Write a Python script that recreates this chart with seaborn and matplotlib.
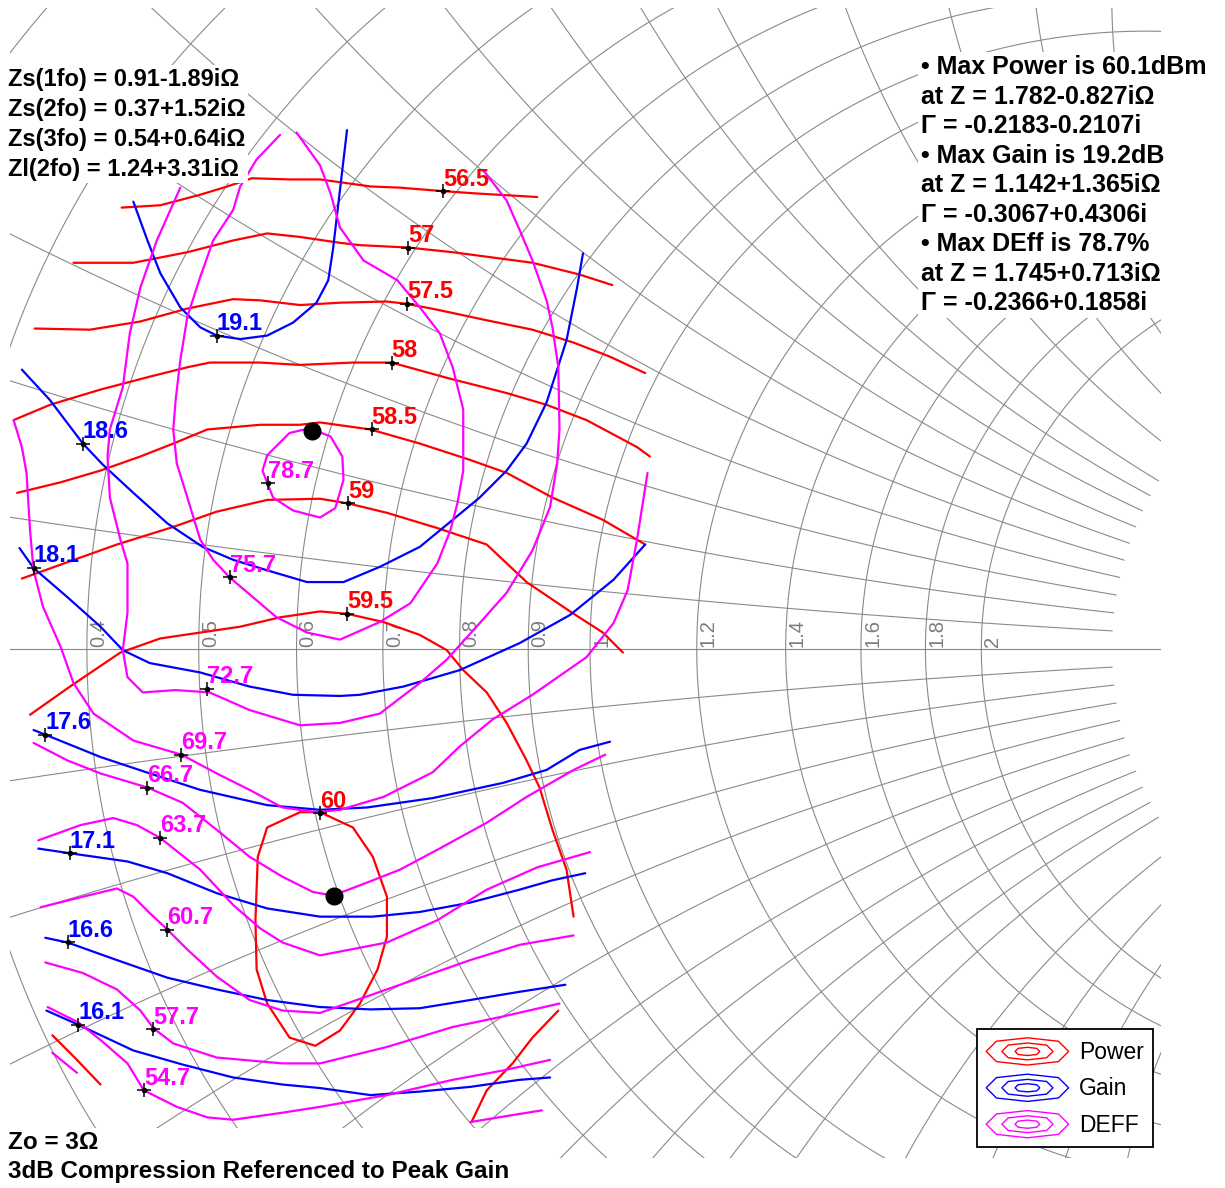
import numpy as np
import pandas as pd
import matplotlib
matplotlib.use("Agg")
import matplotlib.pyplot as plt
import seaborn as sns
from matplotlib.lines import Line2D
from matplotlib.patches import Polygon, Rectangle
from matplotlib.legend_handler import HandlerBase

# load-pull contours (Zo = 3 ohm), points (re, im)
POWER_56_5 = [(-0.399, 0.376), (-0.366, 0.378), (-0.332, 0.387), (-0.309, 0.394), (-0.288, 0.401), (-0.256, 0.400),
              (-0.230, 0.400), (-0.187, 0.394), (-0.162, 0.393), (-0.125, 0.390), (-0.096, 0.388), (-0.045, 0.385)]
POWER_57 = [(-0.440, 0.329), (-0.389, 0.329), (-0.343, 0.338), (-0.304, 0.348), (-0.275, 0.354), (-0.247, 0.351),
            (-0.213, 0.346), (-0.196, 0.344), (-0.155, 0.342), (-0.117, 0.338), (-0.049, 0.329), (-0.009, 0.319),
            (0.019, 0.310)]
POWER_57_5 = [(-0.473, 0.273), (-0.426, 0.272), (-0.383, 0.279), (-0.343, 0.290), (-0.304, 0.298), (-0.281, 0.297),
              (-0.247, 0.293), (-0.213, 0.295), (-0.173, 0.296), (-0.156, 0.294), (-0.130, 0.289), (-0.088, 0.280),
              (-0.049, 0.272), (-0.014, 0.261), (0.017, 0.249), (0.047, 0.235)]
POWER_58 = [(-0.491, 0.195), (-0.460, 0.208), (-0.417, 0.221), (-0.375, 0.232), (-0.343, 0.240), (-0.324, 0.244),
            (-0.281, 0.244), (-0.247, 0.242), (-0.202, 0.244), (-0.169, 0.244), (-0.122, 0.231), (-0.071, 0.218),
            (-0.037, 0.208), (-0.003, 0.195), (0.040, 0.172), (0.051, 0.164)]
POWER_58_5 = [(-0.488, 0.133), (-0.451, 0.142), (-0.417, 0.152), (-0.383, 0.164), (-0.355, 0.175), (-0.326, 0.187),
              (-0.281, 0.191), (-0.247, 0.191), (-0.230, 0.193), (-0.187, 0.187), (-0.145, 0.175), (-0.102, 0.161),
              (-0.071, 0.150), (-0.032, 0.129), (0.011, 0.110), (0.047, 0.089)]
POWER_59 = [(-0.484, 0.060), (-0.445, 0.074), (-0.403, 0.089), (-0.355, 0.104), (-0.318, 0.117), (-0.275, 0.127),
            (-0.230, 0.128), (-0.206, 0.124), (-0.173, 0.116), (-0.130, 0.103), (-0.088, 0.089), (-0.054, 0.057),
            (-0.017, 0.032), (0.011, 0.014), (0.028, -0.003)]
POWER_59_5 = [(-0.477, -0.056), (-0.443, -0.032), (-0.400, -0.003), (-0.366, 0.009), (-0.332, 0.014), (-0.298, 0.019),
              (-0.264, 0.027), (-0.230, 0.032), (-0.207, 0.030), (-0.176, 0.023), (-0.145, 0.012), (-0.122, -0.001),
              (-0.108, -0.018), (-0.088, -0.037), (-0.071, -0.063), (-0.054, -0.095), (-0.043, -0.118),
              (-0.032, -0.154), (-0.020, -0.188), (-0.014, -0.228)]
POWER_60 = [(-0.230, -0.139), (-0.202, -0.152), (-0.185, -0.177), (-0.173, -0.211), (-0.173, -0.245), (-0.181, -0.273),
            (-0.196, -0.302), (-0.213, -0.325), (-0.234, -0.338), (-0.256, -0.331), (-0.275, -0.302), (-0.284, -0.273),
            (-0.285, -0.231), (-0.283, -0.177), (-0.275, -0.152), (-0.247, -0.139), (-0.230, -0.139)]
POWER_EDGE_A = [(-0.458, -0.329), (-0.439, -0.348), (-0.417, -0.371)]
POWER_EDGE_B = [(-0.027, -0.308), (-0.049, -0.331), (-0.066, -0.353), (-0.088, -0.376), (-0.101, -0.403)]

GAIN_19_1 = [(-0.389, 0.381), (-0.377, 0.348), (-0.366, 0.320), (-0.349, 0.291), (-0.332, 0.274), (-0.318, 0.267),
             (-0.298, 0.264), (-0.275, 0.267), (-0.253, 0.278), (-0.233, 0.295), (-0.223, 0.314), (-0.219, 0.340),
             (-0.215, 0.374), (-0.211, 0.408), (-0.207, 0.442)]
GAIN_18_6 = [(-0.484, 0.238), (-0.460, 0.212), (-0.432, 0.175), (-0.415, 0.157), (-0.389, 0.133), (-0.360, 0.107),
             (-0.330, 0.087), (-0.304, 0.076), (-0.275, 0.067), (-0.241, 0.057), (-0.210, 0.057), (-0.179, 0.070),
             (-0.145, 0.087), (-0.117, 0.110), (-0.094, 0.129), (-0.071, 0.152), (-0.054, 0.175), (-0.037, 0.210),
             (-0.020, 0.263), (-0.011, 0.308), (-0.006, 0.337)]
GAIN_18_1 = [(-0.486, 0.086), (-0.474, 0.069), (-0.445, 0.044), (-0.417, 0.019), (-0.398, -0.001), (-0.375, -0.012),
             (-0.332, -0.020), (-0.290, -0.032), (-0.253, -0.039), (-0.213, -0.040), (-0.196, -0.039),
             (-0.159, -0.032), (-0.111, -0.018), (-0.060, 0.005), (-0.017, 0.029), (0.020, 0.059), (0.047, 0.089)]
GAIN_17_6 = [(-0.474, -0.069), (-0.464, -0.073), (-0.417, -0.092), (-0.375, -0.106), (-0.332, -0.120),
             (-0.275, -0.133), (-0.230, -0.137), (-0.190, -0.135), (-0.134, -0.127), (-0.074, -0.114),
             (-0.037, -0.103), (-0.009, -0.086), (0.017, -0.079)]
GAIN_17_1 = [(-0.470, -0.170), (-0.443, -0.174), (-0.394, -0.181), (-0.360, -0.191), (-0.318, -0.208),
             (-0.275, -0.221), (-0.230, -0.228), (-0.185, -0.228), (-0.145, -0.224), (-0.102, -0.216),
             (-0.060, -0.205), (-0.032, -0.197), (-0.004, -0.191)]
GAIN_16_6 = [(-0.464, -0.246), (-0.445, -0.250), (-0.403, -0.265), (-0.360, -0.280), (-0.318, -0.290),
             (-0.275, -0.299), (-0.230, -0.305), (-0.187, -0.307), (-0.145, -0.306), (-0.102, -0.299),
             (-0.060, -0.292), (-0.021, -0.286)]
GAIN_16_1 = [(-0.463, -0.308), (-0.436, -0.320), (-0.389, -0.342), (-0.347, -0.354), (-0.304, -0.365),
             (-0.262, -0.371), (-0.230, -0.374), (-0.187, -0.380), (-0.145, -0.377), (-0.102, -0.373),
             (-0.060, -0.367), (-0.034, -0.365)]

DEFF_78_7 = [(-0.239, 0.188), (-0.221, 0.181), (-0.211, 0.164), (-0.210, 0.144), (-0.217, 0.120), (-0.230, 0.112),
             (-0.253, 0.118), (-0.270, 0.129), (-0.279, 0.152), (-0.275, 0.165), (-0.256, 0.184), (-0.239, 0.188)]
DEFF_75_7 = [(-0.250, 0.440), (-0.230, 0.412), (-0.221, 0.388), (-0.213, 0.359), (-0.193, 0.331), (-0.164, 0.314),
             (-0.145, 0.291), (-0.128, 0.269), (-0.117, 0.240), (-0.108, 0.204), (-0.108, 0.152), (-0.113, 0.124),
             (-0.119, 0.101), (-0.130, 0.073), (-0.153, 0.039), (-0.179, 0.023), (-0.213, 0.008), (-0.241, 0.014),
             (-0.267, 0.027), (-0.287, 0.044), (-0.307, 0.061), (-0.321, 0.076), (-0.332, 0.093), (-0.343, 0.129),
             (-0.352, 0.158), (-0.355, 0.187), (-0.353, 0.212), (-0.349, 0.246), (-0.343, 0.283), (-0.332, 0.317),
             (-0.321, 0.348), (-0.304, 0.374), (-0.298, 0.394), (-0.284, 0.417), (-0.264, 0.438)]
DEFF_72_7 = [(-0.091, 0.408), (-0.071, 0.382), (-0.060, 0.357), (-0.049, 0.331), (-0.037, 0.297), (-0.032, 0.274),
             (-0.027, 0.240), (-0.026, 0.187), (-0.028, 0.158), (-0.034, 0.121), (-0.049, 0.084), (-0.071, 0.048),
             (-0.094, 0.022), (-0.122, -0.009), (-0.145, -0.029), (-0.179, -0.055), (-0.213, -0.063),
             (-0.247, -0.065), (-0.290, -0.052), (-0.324, -0.037), (-0.353, -0.035), (-0.381, -0.037),
             (-0.394, -0.024), (-0.398, -0.001), (-0.394, 0.031), (-0.394, 0.073), (-0.400, 0.093), (-0.409, 0.129),
             (-0.411, 0.164), (-0.409, 0.187), (-0.398, 0.223), (-0.392, 0.269), (-0.383, 0.308), (-0.369, 0.348),
             (-0.349, 0.393)]
DEFF_69_7 = [(-0.491, 0.195), (-0.484, 0.172), (-0.480, 0.150), (-0.477, 0.101), (-0.474, 0.067), (-0.466, 0.036),
             (-0.451, 0.002), (-0.440, -0.029), (-0.423, -0.055), (-0.389, -0.078), (-0.348, -0.090),
             (-0.318, -0.106), (-0.290, -0.120), (-0.262, -0.135), (-0.233, -0.139), (-0.213, -0.137),
             (-0.176, -0.126), (-0.134, -0.105), (-0.111, -0.083), (-0.083, -0.060), (-0.049, -0.039),
             (-0.003, -0.007), (0.020, 0.022), (0.032, 0.050), (0.040, 0.093), (0.049, 0.150)]
DEFF_66_7 = [(-0.474, -0.080), (-0.445, -0.095), (-0.417, -0.106), (-0.377, -0.118), (-0.347, -0.131),
             (-0.318, -0.154), (-0.290, -0.177), (-0.262, -0.194), (-0.236, -0.207), (-0.219, -0.210),
             (-0.190, -0.199), (-0.162, -0.188), (-0.130, -0.171), (-0.088, -0.148), (-0.054, -0.126),
             (-0.014, -0.103), (0.013, -0.090)]
DEFF_63_7 = [(-0.470, -0.163), (-0.434, -0.150), (-0.406, -0.144), (-0.386, -0.150), (-0.366, -0.161),
             (-0.332, -0.188), (-0.304, -0.218), (-0.281, -0.238), (-0.262, -0.250), (-0.230, -0.261),
             (-0.173, -0.250), (-0.130, -0.231), (-0.088, -0.205), (-0.045, -0.186), (0.000, -0.173)]
DEFF_60_7 = [(-0.468, -0.220), (-0.432, -0.211), (-0.403, -0.204), (-0.389, -0.211), (-0.375, -0.225),
             (-0.360, -0.239), (-0.343, -0.256), (-0.318, -0.279), (-0.290, -0.299), (-0.262, -0.308),
             (-0.230, -0.310), (-0.159, -0.285), (-0.102, -0.265), (-0.060, -0.252), (-0.014, -0.244)]
DEFF_57_7 = [(-0.464, -0.267), (-0.432, -0.276), (-0.403, -0.290), (-0.383, -0.308), (-0.372, -0.323),
             (-0.355, -0.336), (-0.318, -0.348), (-0.262, -0.353), (-0.230, -0.353), (-0.173, -0.339),
             (-0.117, -0.322), (-0.074, -0.313), (-0.026, -0.302)]
DEFF_54_7 = [(-0.462, -0.305), (-0.436, -0.318), (-0.417, -0.333), (-0.394, -0.353), (-0.380, -0.376),
             (-0.352, -0.390), (-0.326, -0.399), (-0.304, -0.401), (-0.262, -0.395), (-0.230, -0.390),
             (-0.173, -0.380), (-0.117, -0.367), (-0.074, -0.359), (-0.034, -0.350)]
DEFF_EDGE_A = [(-0.458, -0.344), (-0.437, -0.361)]
DEFF_EDGE_B = [(-0.102, -0.403), (-0.072, -0.398), (-0.041, -0.393)]

# contour labels and the point each label is attached to
POWER_LEVELS = ["56.5", "57", "57.5", "58", "58.5", "59", "59.5", "60"]
POWER_LABEL_RE = [-0.125, -0.155, -0.156, -0.169, -0.186, -0.206, -0.207, -0.230]
POWER_LABEL_IM = [0.390, 0.342, 0.294, 0.244, 0.187, 0.124, 0.030, -0.140]
GAIN_LEVELS = ["19.1", "18.6", "18.1", "17.6", "17.1", "16.6", "16.1"]
GAIN_LABEL_RE = [-0.318, -0.432, -0.474, -0.464, -0.443, -0.445, -0.436]
GAIN_LABEL_IM = [0.267, 0.175, 0.069, -0.073, -0.174, -0.250, -0.320]
DEFF_LEVELS = ["78.7", "75.7", "72.7", "69.7", "66.7", "63.7", "60.7", "57.7", "54.7"]
DEFF_LABEL_RE = [-0.274, -0.307, -0.326, -0.348, -0.377, -0.366, -0.360, -0.372, -0.380]
DEFF_LABEL_IM = [0.141, 0.061, -0.034, -0.090, -0.118, -0.161, -0.239, -0.324, -0.376]

# optimum points (gamma)
MAX_POWER_G = (-0.2183, -0.2107)
MAX_DEFF_G = (-0.2366, 0.1858)

# smith grid values
R_GRID = [0.2, 0.3, 0.4, 0.5, 0.6, 0.7, 0.8, 0.9, 1.0, 1.2, 1.4, 1.6, 1.8, 2.0]
R_LABELS = [0.4, 0.5, 0.6, 0.7, 0.8, 0.9, 1.0, 1.2, 1.4, 1.6, 1.8, 2.0]
X_GRID = [0.1, 0.2, 0.3, 0.4, 0.5, 0.6, 0.7, 0.8, 0.9, 1.0, 1.2, 1.4, 1.6, 1.8, 2.0]

TEXT_LEFT = "Zs(1fo) = 0.91-1.89iΩ\nZs(2fo) = 0.37+1.52iΩ\nZs(3fo) = 0.54+0.64iΩ\nZl(2fo) = 1.24+3.31iΩ"
TEXT_RIGHT = ("• Max Power is 60.1dBm\nat Z = 1.782-0.827iΩ\nΓ = -0.2183-0.2107i\n"
              "• Max Gain is 19.2dB\nat Z = 1.142+1.365iΩ\nΓ = -0.3067+0.4306i\n"
              "• Max DEff is 78.7%\nat Z = 1.745+0.713iΩ\nΓ = -0.2366+0.1858i")
TEXT_BOTTOM = "Zo = 3Ω\n3dB Compression Referenced to Peak Gain"

COLORS = {"Power": "#ff0000", "Gain": "#0000ff", "DEFF": "#ff00ff"}

contours = [("Power", POWER_56_5), ("Power", POWER_57), ("Power", POWER_57_5), ("Power", POWER_58),
            ("Power", POWER_58_5), ("Power", POWER_59), ("Power", POWER_59_5), ("Power", POWER_60),
            ("Power", POWER_EDGE_A), ("Power", POWER_EDGE_B),
            ("Gain", GAIN_19_1), ("Gain", GAIN_18_6), ("Gain", GAIN_18_1), ("Gain", GAIN_17_6),
            ("Gain", GAIN_17_1), ("Gain", GAIN_16_6), ("Gain", GAIN_16_1),
            ("DEFF", DEFF_78_7), ("DEFF", DEFF_75_7), ("DEFF", DEFF_72_7), ("DEFF", DEFF_69_7),
            ("DEFF", DEFF_66_7), ("DEFF", DEFF_63_7), ("DEFF", DEFF_60_7), ("DEFF", DEFF_57_7),
            ("DEFF", DEFF_54_7), ("DEFF", DEFF_EDGE_A), ("DEFF", DEFF_EDGE_B)]

rows = []
for cid, (metric, pts) in enumerate(contours):
    for re_, im_ in pts:
        rows.append({"cid": cid, "metric": metric, "re": re_, "im": im_})
df = pd.DataFrame(rows)

sns.set_theme(style="white")
plt.rcParams['font.family'] = ['Liberation Sans', 'DejaVu Sans']
plt.rcParams['text.color'] = 'black'

fig = plt.figure(figsize=(12.25, 11.88), dpi=100)
ax = fig.add_axes([0, 0, 1, 1])
ax.set_xlim(-0.5026, 0.5409)
ax.set_ylim(-0.4591, 0.5528)
ax.set_aspect('equal')
ax.axis('off')

# smith chart grid, clipped to the window
grid_col = '#8a8a8a'
clip = Rectangle((-0.494, -0.4336), 0.98, 0.98, transform=ax.transData)
t = np.linspace(0, 2 * np.pi, 1441)
for r in R_GRID:
    c = r / (1 + r)
    rad = 1 / (1 + r)
    ln, = ax.plot(c + rad * np.cos(t), rad * np.sin(t), color=grid_col, lw=0.8, zorder=1)
    ln.set_clip_path(clip)
s = np.linspace(0, 2.6, 600)
for xv in X_GRID:
    for sign in (1, -1):
        z = s + 1j * sign * xv
        g = (z - 1) / (z + 1)
        ln, = ax.plot(g.real, g.imag, color=grid_col, lw=0.8, zorder=1)
        ln.set_clip_path(clip)
ln, = ax.plot([-1, 1], [0, 0], color=grid_col, lw=0.8, zorder=1)
ln.set_clip_path(clip)

for r in R_LABELS:
    ax.annotate(f"{r:g}", ((r - 1) / (r + 1), 0), xytext=(1.5, 1.5), textcoords='offset points',
                rotation=90, color='#7c7c7c', fontsize=14.5, ha='left', va='bottom', zorder=2)

# contours
sns.lineplot(data=df, x='re', y='im', hue='metric', units='cid', estimator=None, sort=False,
             palette=COLORS, lw=1.6, legend=False, ax=ax, zorder=3)
ax.set_xlabel('')
ax.set_ylabel('')

# labels
for levels, lre, lim, col in [(POWER_LEVELS, POWER_LABEL_RE, POWER_LABEL_IM, COLORS["Power"]),
                              (GAIN_LEVELS, GAIN_LABEL_RE, GAIN_LABEL_IM, COLORS["Gain"]),
                              (DEFF_LEVELS, DEFF_LABEL_RE, DEFF_LABEL_IM, COLORS["DEFF"])]:
    ax.plot(lre, lim, ls='none', marker='+', ms=10, mew=1.1, color='black', zorder=5)
    ax.plot(lre, lim, ls='none', marker='o', ms=3, color='black', zorder=5)
    for lab, x, y in zip(levels, lre, lim):
        ax.annotate(lab, (x, y), xytext=(0, 4), textcoords='offset points', color=col,
                    fontsize=17, fontweight='bold', ha='left', va='baseline', zorder=6)

ax.plot(*MAX_POWER_G, marker='o', ms=12, color='black', zorder=6)
ax.plot(*MAX_DEFF_G, marker='o', ms=12, color='black', zorder=6)

box = dict(facecolor='white', edgecolor='none', pad=2)
ax.text(8 / 1225, 1 - 68 / 1188, TEXT_LEFT, transform=ax.transAxes, ha='left', va='top', fontsize=17,
        fontweight='bold', color='black', linespacing=1.38, bbox=box, zorder=7)
ax.text(921 / 1225, 1 - 55 / 1188, TEXT_RIGHT, transform=ax.transAxes, ha='left', va='top', fontsize=18,
        fontweight='bold', color='black', linespacing=1.29, bbox=box, zorder=7)
ax.text(8 / 1225, 1 - 1183 / 1188, TEXT_BOTTOM, transform=ax.transAxes, ha='left', va='bottom', fontsize=17.5,
        fontweight='bold', color='black', linespacing=1.34, bbox=box, zorder=7)


class NestedRings(HandlerBase):
    def create_artists(self, legend, orig_handle, xdescent, ydescent, width, height, fontsize, trans):
        col = orig_handle.get_color()
        cx = -xdescent + width / 2
        cy = -ydescent + height / 2
        shape = np.array([[-1, 0], [-0.75, 0.75], [0, 1], [0.75, 0.75], [1, 0],
                          [0.75, -0.75], [0, -1], [-0.75, -0.75]])
        arts = []
        for k in (1.0, 0.62, 0.3):
            pts = np.column_stack([cx + shape[:, 0] * k * width / 2, cy + shape[:, 1] * k * height / 2])
            arts.append(Polygon(pts, closed=True, fill=False, edgecolor=col, lw=1, transform=trans))
        return arts


handles = [Line2D([], [], color=COLORS[m]) for m in ["Power", "Gain", "DEFF"]]
leg = ax.legend(handles, ["Power", "Gain", "DEFF"], handler_map={Line2D: NestedRings()},
                loc='lower left', bbox_to_anchor=(977 / 1225, 1 - 1147 / 1188), frameon=True,
                fancybox=False, edgecolor='black', framealpha=1, fontsize=16.5, handlelength=3.6,
                handleheight=1.45, labelspacing=0.4, borderpad=0.4, handletextpad=0.45, borderaxespad=0,
                labelcolor='black')
leg.get_frame().set_linewidth(1.3)
leg.set_zorder(8)

fig.savefig('out.png', dpi=100)
